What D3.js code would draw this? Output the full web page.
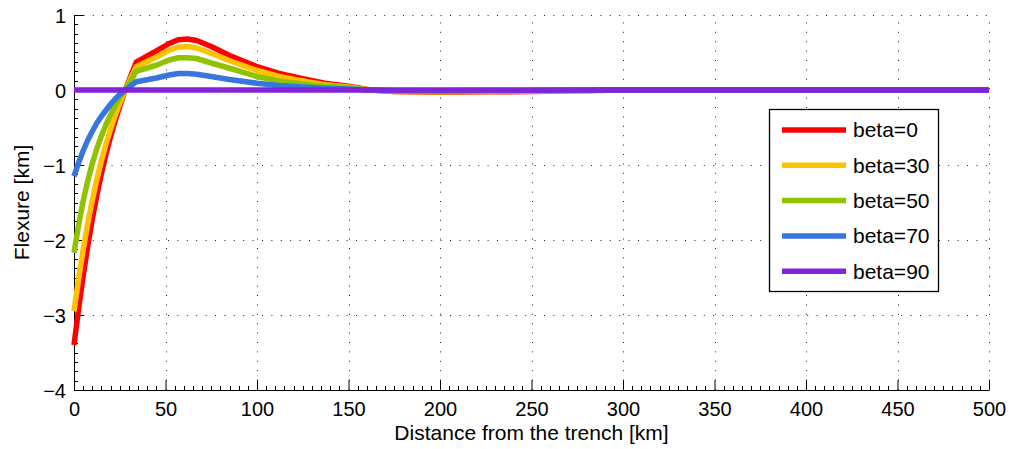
<!DOCTYPE html>
<html>
<head>
<meta charset="utf-8">
<script src="https://cdn.jsdelivr.net/npm/d3@7"></script>
<style>
  body { margin: 0; background: #fff; }
  svg { display: block; font-family: "Liberation Sans", Arial, sans-serif; }
</style>
</head>
<body>
<div id="chart"></div>
<script>
// distance from the trench (km), shared by every curve
const distance = [0, 2.5, 5, 7.5, 10, 12.5, 15, 17.5, 20, 22.5, 25, 28, 34, 45, 52, 57, 62, 67, 75, 85, 100, 112, 125, 137, 150, 162, 175, 200, 225, 250, 275, 300, 350, 400, 450, 500];

// flexure (km)
const beta0  = [-3.4, -2.92, -2.48, -2.08, -1.72, -1.4, -1.11, -0.85, -0.62, -0.41, -0.22, 0, 0.37, 0.52, 0.62, 0.67, 0.68, 0.66, 0.58, 0.46, 0.31, 0.22, 0.15, 0.09, 0.05, 0, -0.02, -0.03, -0.025, -0.02, -0.01, 0, 0, 0, 0, 0];
const beta30 = [-2.95, -2.52, -2.13, -1.78, -1.47, -1.19, -0.94, -0.72, -0.52, -0.34, -0.18, 0, 0.31, 0.44, 0.53, 0.57, 0.58, 0.56, 0.49, 0.39, 0.26, 0.18, 0.12, 0.07, 0.04, 0, -0.02, -0.025, -0.02, -0.015, -0.01, 0, 0, 0, 0, 0];
const beta50 = [-2.17, -1.8, -1.48, -1.21, -0.98, -0.78, -0.61, -0.46, -0.33, -0.21, -0.1, 0, 0.25, 0.33, 0.4, 0.43, 0.43, 0.42, 0.36, 0.29, 0.18, 0.12, 0.08, 0.05, 0.03, 0, -0.015, -0.02, -0.015, -0.01, -0.005, 0, 0, 0, 0, 0];
const beta70 = [-1.15, -0.97, -0.81, -0.67, -0.55, -0.44, -0.35, -0.27, -0.19, -0.12, -0.06, 0, 0.11, 0.16, 0.2, 0.22, 0.22, 0.21, 0.18, 0.14, 0.09, 0.06, 0.04, 0.025, 0.015, 0, -0.01, -0.01, -0.008, -0.005, 0, 0, 0, 0, 0, 0];
const beta90 = [0, 0, 0, 0, 0, 0, 0, 0, 0, 0, 0, 0, 0, 0, 0, 0, 0, 0, 0, 0, 0, 0, 0, 0, 0, 0, 0, 0, 0, 0, 0, 0, 0, 0, 0, 0];

const seriesNames = ["beta=0", "beta=30", "beta=50", "beta=70", "beta=90"];
const seriesValues = [beta0, beta30, beta50, beta70, beta90];
const colors = ["#ff0000", "#ffc200", "#8fc300", "#3876df", "#8222d9"];

const xTicks = [0, 50, 100, 150, 200, 250, 300, 350, 400, 450, 500];
const yTicks = [-4, -3, -2, -1, 0, 1];

const width = 1010, height = 449;
const margin = {top: 15, right: 21, bottom: 59, left: 74};

const svg = d3.select("#chart").append("svg")
  .attr("width", width)
  .attr("height", height);

const x = d3.scaleLinear().domain([0, 500]).range([margin.left, width - margin.right]);
const y = d3.scaleLinear().domain([-4, 1]).range([height - margin.bottom, margin.top]);

// dotted grid
const grid = svg.append("g").attr("stroke", "#222").attr("stroke-width", 1).attr("stroke-dasharray", "1,8.4");
grid.selectAll("line.v")
  .data(xTicks.slice(1))
  .enter().append("line")
  .attr("x1", d => Math.round(x(d)) + 0.5).attr("x2", d => Math.round(x(d)) + 0.5)
  .attr("y1", y(-4)).attr("y2", y(1));
grid.selectAll("line.h")
  .data(yTicks.slice(1))
  .enter().append("line")
  .attr("y1", d => Math.round(y(d)) + 0.5).attr("y2", d => Math.round(y(d)) + 0.5)
  .attr("x1", x(0)).attr("x2", x(500));

// minor ticks
const minor = svg.append("g").attr("stroke", "#000").attr("stroke-width", 1);
minor.selectAll("line.mx")
  .data(d3.range(0, 501, 5).filter(d => d % 50 != 0))
  .enter().append("line")
  .attr("x1", d => Math.round(x(d)) + 0.5).attr("x2", d => Math.round(x(d)) + 0.5)
  .attr("y1", y(-4)).attr("y2", y(-4) - 4);
minor.selectAll("line.my")
  .data(d3.range(-4, 1.001, 0.125).filter(d => Math.abs(d - Math.round(d)) > 0.01))
  .enter().append("line")
  .attr("y1", d => Math.round(y(d)) + 0.5).attr("y2", d => Math.round(y(d)) + 0.5)
  .attr("x1", x(0)).attr("x2", x(0) + 4);

// axes
const xAxis = svg.append("g")
  .attr("transform", `translate(0,${y(-4)})`)
  .call(d3.axisBottom(x).tickValues(xTicks).tickSizeInner(-10).tickSizeOuter(0).tickPadding(12));
const yAxis = svg.append("g")
  .attr("transform", `translate(${x(0)},0)`)
  .call(d3.axisLeft(y).tickValues(yTicks).tickSizeInner(-10).tickSizeOuter(0).tickPadding(8)
    .tickFormat(d => d < 0 ? "\u2212" + Math.abs(d) : d));
[xAxis, yAxis].forEach(a => {
  a.selectAll("text").attr("font-size", 20).attr("fill", "#000").attr("font-family", "Liberation Sans, Arial, sans-serif");
  a.selectAll("line").attr("stroke", "#000");
  a.select(".domain").attr("stroke", "#000");
});
yAxis.selectAll("text").attr("dy", "0.35em");

// curves
const line = d3.line()
  .x((d, i) => x(distance[i]))
  .y(d => y(d));

svg.append("g").selectAll("path")
  .data(seriesValues)
  .enter().append("path")
  .attr("d", line)
  .attr("fill", "none")
  .attr("stroke", (d, i) => colors[i])
  .attr("stroke-width", 5.5)
  .attr("stroke-linejoin", "round");

// legend
const lg = svg.append("g");
lg.append("rect")
  .attr("x", 769.5).attr("y", 109.5)
  .attr("width", 169).attr("height", 182)
  .attr("fill", "#fff").attr("stroke", "#000").attr("stroke-width", 1.3);
const items = lg.selectAll("g.item")
  .data(seriesNames)
  .enter().append("g")
  .attr("transform", (d, i) => `translate(0,${130 + i * 35.3})`);
items.append("line")
  .attr("x1", 782).attr("x2", 846)
  .attr("stroke", (d, i) => colors[i])
  .attr("stroke-width", 5.5);
items.append("text")
  .attr("x", 853).attr("dy", "0.35em")
  .attr("font-size", 21)
  .text(d => d);

// axis titles
svg.append("text")
  .attr("x", (x(0) + x(500)) / 2).attr("y", 440)
  .attr("text-anchor", "middle").attr("font-size", 21)
  .text("Distance from the trench [km]");
svg.append("text")
  .attr("transform", `translate(29,${y(-1.5)}) rotate(-90)`)
  .attr("text-anchor", "middle").attr("font-size", 21)
  .text("Flexure [km]");
</script>
</body>
</html>
